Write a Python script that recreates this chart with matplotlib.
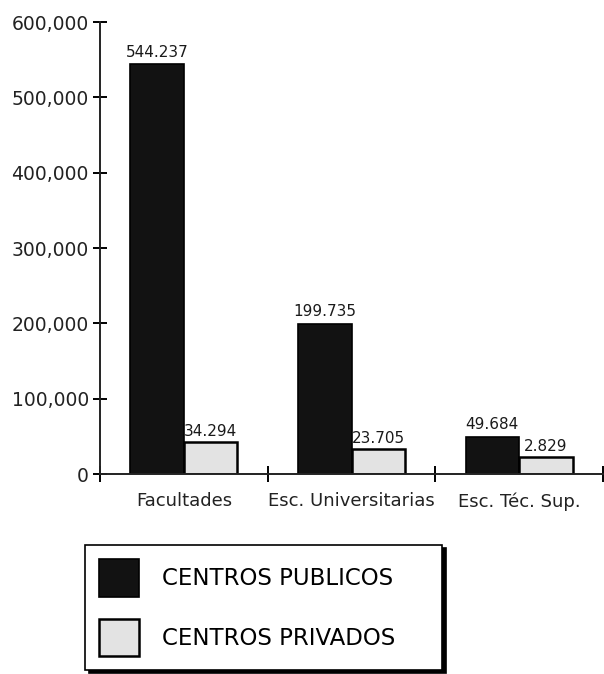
import matplotlib
matplotlib.use("Agg")
import matplotlib.pyplot as plt
import numpy as np

# ---- data ----
categorias = ["Facultades", "Esc. Universitarias", "Esc. Téc. Sup."]
publicos = [544237, 199735, 49684]
privados = [34294, 23705, 2829]
# heights of the private bars as drawn in the original (exaggerated)
privados_altura = [42500, 33000, 22500]
etiquetas_publicos = ["544.237", "199.735", "49.684"]
etiquetas_privados = ["34.294", "23.705", "2.829"]
y_ticks = [0, 100000, 200000, 300000, 400000, 500000, 600000]
y_ticklabels = ["0", "100,000", "200,000", "300,000", "400,000", "500,000", "600,000"]
series = ["CENTROS PUBLICOS", "CENTROS PRIVADOS"]

plt.rcParams['font.family'] = ['DejaVu Sans']

fig = plt.figure(figsize=(6.04, 6.74), dpi=100)
ax = fig.add_axes([100/604, 1-474/674, 503/604, 452/674])

x = np.arange(len(categorias))
w = 0.32
b1 = ax.bar(x - w/2, publicos, w, color="#121212", edgecolor="black", linewidth=1.2,
            label=series[0])
b2 = ax.bar(x + w/2, privados_altura, w, color="#e3e3e3", edgecolor="black", linewidth=1.8,
            label=series[1])
ax.bar_label(b1, labels=etiquetas_publicos, padding=3, fontsize=11, color="#1a1a1a")
ax.bar_label(b2, labels=etiquetas_privados, padding=2, fontsize=11, color="#1a1a1a")

ax.set_xlim(-0.5, 2.5)
ax.set_ylim(0, 600000)
ax.set_yticks(y_ticks)
ax.set_yticklabels(y_ticklabels, fontsize=13.5, color="#222222")
ax.set_xticks(x)
ax.set_xticklabels(categorias, fontsize=13, color="#222222")
ax.set_xticks([-0.5, 0.5, 1.5, 2.5], minor=True)
ax.tick_params(axis="y", direction="inout", length=10, width=1.4, pad=3)
ax.tick_params(axis="x", which="major", length=0, pad=13)
ax.tick_params(axis="x", which="minor", direction="inout", length=12, width=1.4)

for s in ["top", "right"]:
    ax.spines[s].set_visible(False)
for s in ["left", "bottom"]:
    ax.spines[s].set_linewidth(1.4)
    ax.spines[s].set_color("#222222")

leg = fig.legend(handles=[b1, b2], labels=series, loc="upper left",
                 bbox_to_anchor=(85/604, 1-670/674, 357/604, 125/674),
                 mode="expand", borderaxespad=0, fontsize=16.5,
                 handlelength=1.75, handleheight=2.15, handletextpad=1.0,
                 labelspacing=0.95, borderpad=0.62, fancybox=False,
                 framealpha=1, edgecolor="black",
                 shadow={"ox": 3, "oy": -2, "color": "black", "alpha": 1})
leg.get_frame().set_linewidth(1.2)

fig.savefig("out.png", dpi=100)
